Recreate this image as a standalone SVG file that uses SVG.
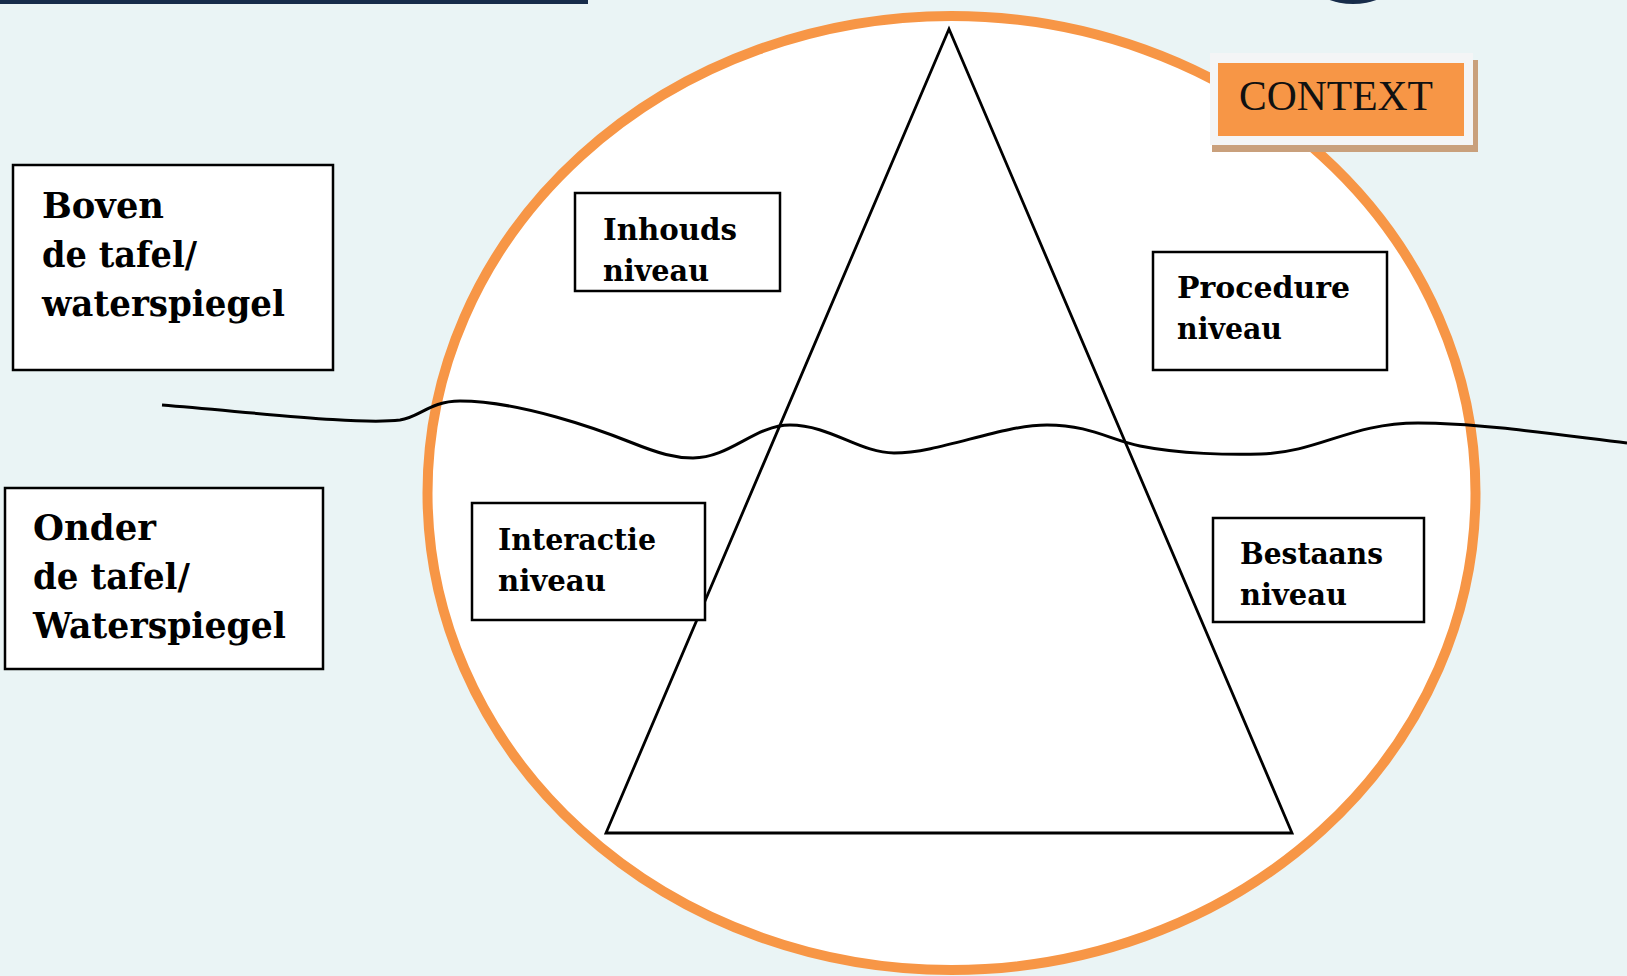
<svg xmlns="http://www.w3.org/2000/svg" width="1627" height="976" viewBox="0 0 1627 976">
  <style>
    .box { fill: #ffffff; stroke: #000000; stroke-width: 2.5; }
    .big { font-family: "DejaVu Serif", "Liberation Serif", serif; font-weight: bold; font-size: 35px; fill: #000000; }
    .small { font-family: "DejaVu Serif", "Liberation Serif", serif; font-weight: bold; font-size: 30px; fill: #000000; }
    .ctx { font-family: "Liberation Serif", serif; font-size: 42px; fill: #111111; }
  </style>

  <!-- background -->
  <rect x="0" y="0" width="1627" height="976" fill="#eaf4f5"/>
  <rect x="0" y="0" width="588" height="4" fill="#172c4a"/>
  <circle cx="1353" cy="-66" r="70" fill="#172c4a"/>

  <!-- context circle -->
  <g id="context-circle">
    <ellipse cx="951.5" cy="493" rx="524" ry="477" fill="#ffffff" stroke="#f79646" stroke-width="10"/>
  </g>

  <!-- pyramid -->
  <g id="pyramid">
    <polygon points="949,29 606,833 1292,833" fill="none" stroke="#000000" stroke-width="2.8" stroke-linejoin="miter"/>
  </g>

  <!-- waterline -->
  <g id="connectors">
    <path d="M162,405 C260,413 360,425 400,420 C420,417 430,401 460,401 C520,401 600,430 630,442 C660,454 675,458 693,458 C730,458 755,425 790,425 C830,425 860,453 894,453 C940,453 1000,425 1047,425 C1090,425 1110,440 1140,446 C1180,454 1230,455 1261,454 C1320,452 1350,423 1418,423 C1480,423 1560,435 1627,443" fill="none" stroke="#000000" stroke-width="3"/>
  </g>

  <!-- context label -->
  <g id="context">
    <rect x="1212" y="60" width="266" height="92" fill="#c9a07c"/>
    <rect x="1210" y="53" width="263" height="92" fill="#f4f5f6"/>
    <rect x="1218" y="63" width="246" height="73" fill="#f79646"/>
    <text class="ctx" x="1239" y="110" textLength="194" lengthAdjust="spacingAndGlyphs">CONTEXT</text>
  </g>

  <g id="boven">
    <rect class="box" x="13" y="165" width="320" height="205"/>
    <text class="big" x="42" y="218" textLength="122" lengthAdjust="spacingAndGlyphs">Boven</text>
    <text class="big" x="42" y="267" textLength="155" lengthAdjust="spacingAndGlyphs">de tafel/</text>
    <text class="big" x="42" y="316" textLength="243" lengthAdjust="spacingAndGlyphs">waterspiegel</text>
  </g>

  <g id="onder">
    <rect class="box" x="5" y="488" width="318" height="181"/>
    <text class="big" x="33" y="540" textLength="123" lengthAdjust="spacingAndGlyphs">Onder</text>
    <text class="big" x="33" y="589" textLength="157" lengthAdjust="spacingAndGlyphs">de tafel/</text>
    <text class="big" x="33" y="638" textLength="253" lengthAdjust="spacingAndGlyphs">Waterspiegel</text>
  </g>

  <g id="inhouds">
    <rect class="box" x="575" y="193" width="205" height="98"/>
    <text class="small" x="603" y="240" textLength="134" lengthAdjust="spacingAndGlyphs">Inhouds</text>
    <text class="small" x="603" y="281" textLength="106" lengthAdjust="spacingAndGlyphs">niveau</text>
  </g>

  <g id="procedure">
    <rect class="box" x="1153" y="252" width="234" height="118"/>
    <text class="small" x="1177" y="298" textLength="173" lengthAdjust="spacingAndGlyphs">Procedure</text>
    <text class="small" x="1177" y="339" textLength="105" lengthAdjust="spacingAndGlyphs">niveau</text>
  </g>

  <g id="interactie">
    <rect class="box" x="472" y="503" width="233" height="117"/>
    <text class="small" x="498" y="550" textLength="158" lengthAdjust="spacingAndGlyphs">Interactie</text>
    <text class="small" x="498" y="591" textLength="108" lengthAdjust="spacingAndGlyphs">niveau</text>
  </g>

  <g id="bestaans">
    <rect class="box" x="1213" y="518" width="211" height="104"/>
    <text class="small" x="1240" y="564" textLength="143" lengthAdjust="spacingAndGlyphs">Bestaans</text>
    <text class="small" x="1240" y="605" textLength="107" lengthAdjust="spacingAndGlyphs">niveau</text>
  </g>
</svg>
